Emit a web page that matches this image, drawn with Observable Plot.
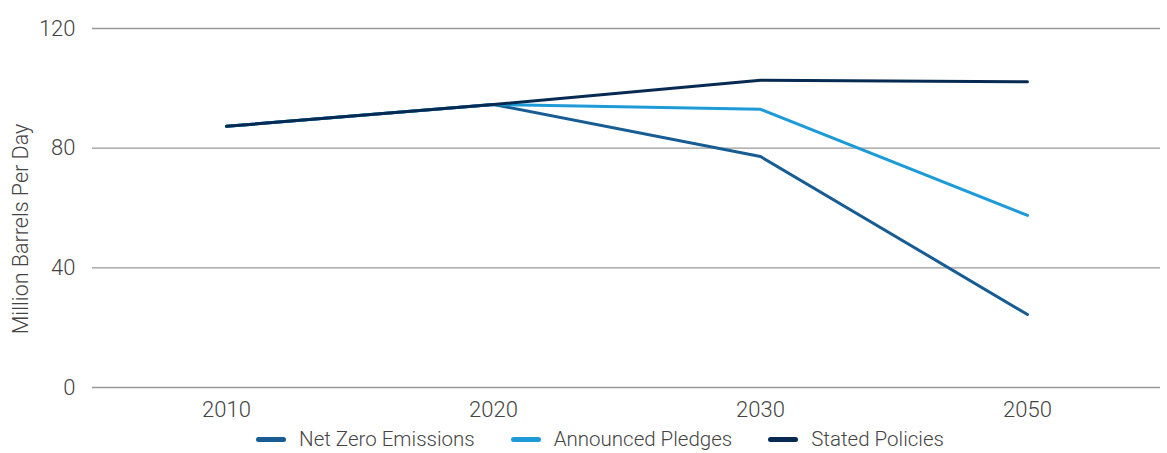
<!DOCTYPE html>
<html>
<head>
<meta charset="utf-8">
<script src="https://cdn.jsdelivr.net/npm/d3@7"></script>
<script src="https://cdn.jsdelivr.net/npm/@observablehq/plot@0.6"></script>
<style>
  body { margin: 0; background: #fff; font-family: Roboto, "Noto Sans", sans-serif; font-weight: 300; }
  #chart { position: relative; width: 1167px; }
  #legend { display: flex; justify-content: center; align-items: center; height: 28px; color: #444; font-size: 20.5px; margin-left: 33px; }
  .item { display: flex; align-items: center; margin: 0 18px; }
  .sw { width: 30px; height: 5px; border-radius: 3px; margin-right: 13px; }
</style>
</head>
<body>
<div id="chart"></div>
<script>
const years = ["2010", "2020", "2030", "2050"];
const netZero = [87.3, 94.6, 77.2, 24.4];
const announced = [87.3, 94.6, 93.0, 57.5];
const stated = [87.3, 94.6, 102.7, 102.2];
const seriesNames = ["Net Zero Emissions", "Announced Pledges", "Stated Policies"];
const seriesColors = ["#175c93", "#1e9bd7", "#062a52"];
const yTicks = [0, 40, 80, 120];

const seriesValues = [netZero, announced, stated];
const data = [];
seriesNames.forEach((s, i) => years.forEach((y, j) => data.push({series: s, year: y, value: seriesValues[i][j]})));

const plot = Plot.plot({
  width: 1167,
  height: 425,
  marginLeft: 92,
  marginRight: 7,
  marginTop: 28,
  marginBottom: 38,
  style: {fontFamily: "Roboto, 'Noto Sans', sans-serif", fontWeight: 300, fontSize: "22px", color: "#444", background: "#fff"},
  x: {type: "point", domain: years, padding: 0.5, label: null},
  y: {domain: [0, 120], ticks: yTicks, label: null},
  color: {domain: seriesNames, range: seriesColors},
  marks: [
    Plot.gridY(yTicks, {stroke: "#999", strokeOpacity: 1, strokeWidth: 1.3}),
    Plot.axisY({ticks: yTicks, tickSize: 0, tickPadding: 17, label: null, fontSize: 22}),
    Plot.axisX({tickSize: 0, tickPadding: 14, label: null, fontSize: 22}),
    Plot.text(["Million Barrels Per Day"], {frameAnchor: "left", textAnchor: "middle", dx: -71, dy: 21, rotate: -90, fontSize: 21.5, fill: "#444"}),
    Plot.line(data, {x: "year", y: "value", z: "series", stroke: "series", strokeWidth: 3, strokeLinecap: "round", strokeLinejoin: "round"})
  ]
});
document.getElementById("chart").appendChild(plot);

const legend = document.createElement("div");
legend.id = "legend";
seriesNames.forEach((s, i) => {
  const it = document.createElement("div");
  it.className = "item";
  const sw = document.createElement("div");
  sw.className = "sw";
  sw.style.background = seriesColors[i];
  const t = document.createElement("span");
  t.textContent = s;
  it.appendChild(sw); it.appendChild(t);
  legend.appendChild(it);
});
document.getElementById("chart").appendChild(legend);
</script>
</body>
</html>
